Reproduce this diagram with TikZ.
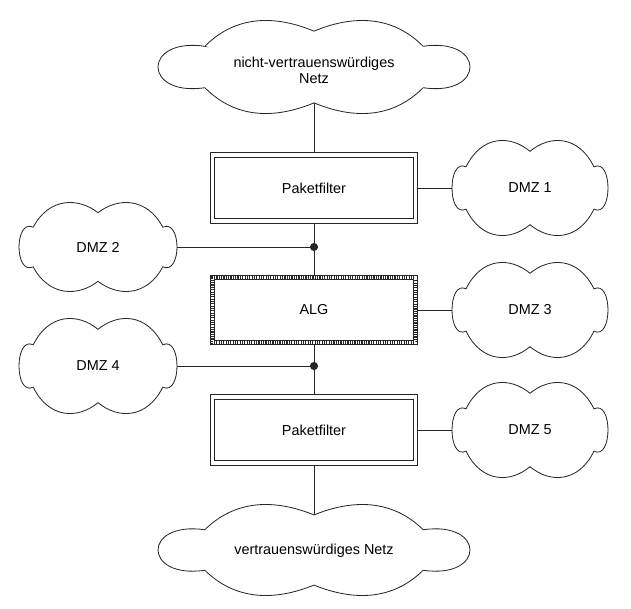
\documentclass[tikz,border=0pt]{standalone}
\usepackage{fontspec}
\setmainfont{Liberation Sans}
\usepackage{tikz}
\usepackage{xcolor}
\usetikzlibrary{positioning,calc}
\definecolor{ink}{HTML}{262626}
\tikzset{
  wolkenlinie/.style={draw=ink, line width=0.7pt, fill=white},
  wolkentext/.style={inner sep=0pt, align=center, font=\fontsize{12.3}{13.5}\selectfont},
  pics/wolke/.style={code={
    \draw[wolkenlinie] (-#1,0.45) .. controls (-#1+0.2,1.13) and (-0.25,1.13) .. (0,0.78)
      .. controls (0.25,1.13) and (#1-0.2,1.13) .. (#1,0.45)
      .. controls ({(8-2*#1)/6},0.65) and ({(8-2*#1)/6},-0.65) .. (#1,-0.45)
      .. controls (#1-0.2,-1.13) and (0.25,-1.13) .. (0,-0.78)
      .. controls (-0.25,-1.13) and (-#1+0.2,-1.13) .. (-#1,-0.45)
      .. controls ({-(8-2*#1)/6},-0.65) and ({-(8-2*#1)/6},0.65) .. cycle;
    \coordinate (-left) at (-1,0);
    \coordinate (-right) at (1,0);
    \coordinate (-top) at (0,0.78);
    \coordinate (-bot) at (0,-0.78);
  }},
  filterbox/.style={draw=ink, line width=0.8pt, minimum width=6.22cm, minimum height=2.12cm,
                    font=\fontsize{12.3}{14}\selectfont},
  innenrahmen/.style={draw=ink, line width=0.8pt},
  algbox/.style={draw=ink, line width=4.6pt, minimum width=6.08cm, minimum height=1.94cm,
                 font=\fontsize{12.3}{14}\selectfont,
                 postaction={draw=white, line width=3pt, dash pattern=on 1pt off 1pt}},
  link/.style={draw=ink, line width=0.7pt},
  knot/.style={circle, fill=ink, inner sep=0pt, minimum size=7pt}
}
\begin{document}
\begin{tikzpicture}[x=0.03cm,y=-0.03cm]
        \useasboundingbox (0,0) rectangle (631,609);
        % Wolken
        \pic[xscale=156,yscale=-46] (unsicherw) at (314,67) {wolke=0.7};
        \pic[xscale=156,yscale=-45] (sicherw) at (314,550) {wolke=0.7};
        \pic[xscale=78,yscale=-47] (dmz1w) at (530,188) {wolke=0.82};
        \pic[xscale=79,yscale=-44] (dmz2w) at (98,247) {wolke=0.82};
        \pic[xscale=78,yscale=-47] (dmz3w) at (530,310) {wolke=0.82};
        \pic[xscale=79,yscale=-47] (dmz4w) at (98,366) {wolke=0.82};
        \pic[xscale=78,yscale=-47] (dmz5w) at (530,430) {wolke=0.82};
        \node[wolkentext] (unsicher) at (314,70) {nicht-vertrauenswürdiges\\Netz};
        \node[wolkentext] (sicher) at (314,551) {vertrauenswürdiges Netz};
        \node[wolkentext] (dmz1) at (530,188) {DMZ 1};
        \node[wolkentext] (dmz2) at (98,247) {DMZ 2};
        \node[wolkentext] (dmz3) at (530,310) {DMZ 3};
        \node[wolkentext] (dmz4) at (98,366) {DMZ 4};
        \node[wolkentext] (dmz5) at (530,430) {DMZ 5};
        % Filter und Gateway
        \node[filterbox] (pf1) at (314,188) {Paketfilter};
        \draw[innenrahmen] ([shift={(0.15cm,-0.15cm)}]pf1.north west) rectangle ([shift={(-0.15cm,0.15cm)}]pf1.south east);
        \node[algbox] (alg) at (314,310) {ALG};
        \node[filterbox] (pf2) at (314,430) {Paketfilter};
        \draw[innenrahmen] ([shift={(0.15cm,-0.15cm)}]pf2.north west) rectangle ([shift={(-0.15cm,0.15cm)}]pf2.south east);
        \node[knot] (k1) at (314,247) {};
        \node[knot] (k2) at (314,366) {};
        % Verbindungen
        \draw[link] (unsicherw-bot) -- (pf1);
        \draw[link] (pf1) -- (dmz1w-left);
        \draw[link] (pf1) -- (k1) -- (alg);
        \draw[link] (dmz2w-right) -- (k1);
        \draw[link] (alg) -- (dmz3w-left);
        \draw[link] (alg) -- (k2) -- (pf2);
        \draw[link] (dmz4w-right) -- (k2);
        \draw[link] (pf2) -- (dmz5w-left);
        \draw[link] (pf2) -- (sicherw-top);
      \end{tikzpicture}
\end{document}
